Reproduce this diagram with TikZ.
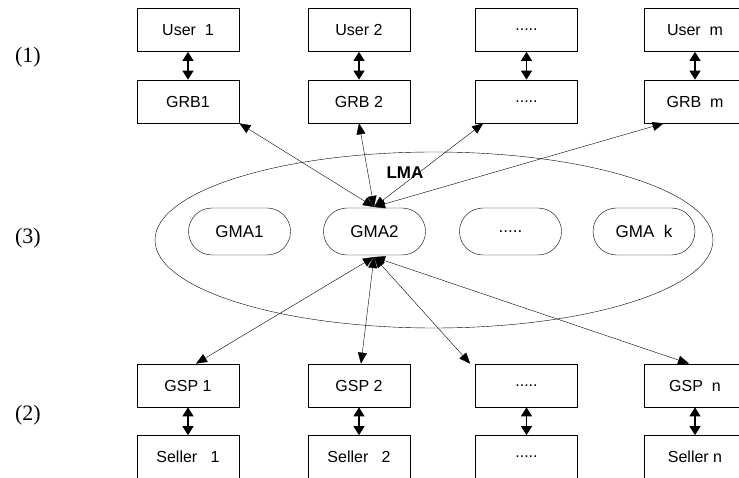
\documentclass[tikz,border=0pt]{standalone}
\usepackage{fontspec}
\setmainfont{Liberation Serif}
\setsansfont{Liberation Sans}
\usetikzlibrary{arrows.meta,shapes.misc,shapes.geometric}
\begin{document}
\begin{tikzpicture}[x=1pt,y=-1pt,
  box/.style={draw,line width=0.7pt,minimum width=102pt,minimum height=43pt,inner sep=0pt,font=\sffamily\fontsize{16}{18}\selectfont},
  gma/.style={draw,line width=0.4pt,rounded rectangle,minimum width=102pt,minimum height=47pt,inner sep=0pt,font=\sffamily\fontsize{17}{19}\selectfont},
  lbl/.style={font=\fontsize{22}{24}\selectfont},
  dbl/.style={line width=1.1pt,{Triangle[length=9pt,width=11pt]}-{Triangle[length=9pt,width=11pt]},shorten <=0pt,shorten >=0pt},
  thin/.style={line width=0.4pt,{Triangle[length=11pt,width=9pt]}-{Triangle[length=11pt,width=9pt]}}]
\useasboundingbox (0,0) rectangle (739,478);
\clip (0,0) rectangle (739,478);
% labels
\node[lbl] (l1) at (28,57) {(1)};
\node[lbl] (l3) at (28,238) {(3)};
\node[lbl] (l2) at (28,415) {(2)};
% top boxes
\node[box] (u1) at (188,30) {User\ \ 1};
\node[box] (u2) at (359,30) {User 2};
\node[box] (u3) at (526.5,30) {.....};
\node[box] (u4) at (695,30) {User\ \ m};
\node[box] (g1) at (188,101.5) {GRB1};
\node[box] (g2) at (359,101.5) {GRB 2};
\node[box] (g3) at (526.5,101.5) {.....};
\node[box] (g4) at (695,101.5) {GRB\ \ m};
% bottom boxes
\node[box] (s1) at (188,385.5) {GSP 1};
\node[box] (s2) at (359,385.5) {GSP 2};
\node[box] (s3) at (526.5,385.5) {.....};
\node[box] (s4) at (695,385.5) {GSP\ \ n};
\node[box] (e1) at (188,457) {Seller\ \ \ 1};
\node[box] (e2) at (359,457) {Seller\ \ \ 2};
\node[box] (e3) at (526.5,457) {.....};
\node[box] (e4) at (695,457) {Seller n};
% ellipse
\node[draw,line width=0.4pt,ellipse,minimum width=558pt,minimum height=176pt,inner sep=0pt] (lmaell) at (434,240) {};
\node[font=\sffamily\bfseries\fontsize{17}{19}\selectfont] (lma) at (405,173) {LMA};
\node[gma] (m1) at (239.5,231.5) {GMA1};
\node[gma] (m2) at (374.5,231.5) {GMA2};
\node[gma] (m3) at (510.5,231.5) {.....};
\node[gma] (m4) at (644,231.5) {GMA\ \ k};
% double arrows
\foreach \a/\b in {u1/g1,u2/g2,u3/g3,u4/g4,s1/e1,s2/e2,s3/e3,s4/e4}
  \draw[dbl] (\a.south) -- (\b.north);
% connectors from GMA2
\coordinate (mt) at (374,207);
\coordinate (mb) at (374,257);
\draw[thin] (mt) -- (g1.south east);
\draw[thin] (mt) -- (g2.south);
\draw[thin] (mt) -- ([xshift=8pt]g3.south west);
\draw[thin] (mt) -- ([xshift=20pt]g4.south west);
\draw[thin] (mb) -- ([xshift=8pt]s1.north);
\draw[thin] (mb) -- ([xshift=2pt]s2.north);
\draw[thin] (mb) -- ([xshift=-5pt]s3.north west);
\draw[thin] (mb) -- ([xshift=-6pt]s4.north);
\end{tikzpicture}
\end{document}
